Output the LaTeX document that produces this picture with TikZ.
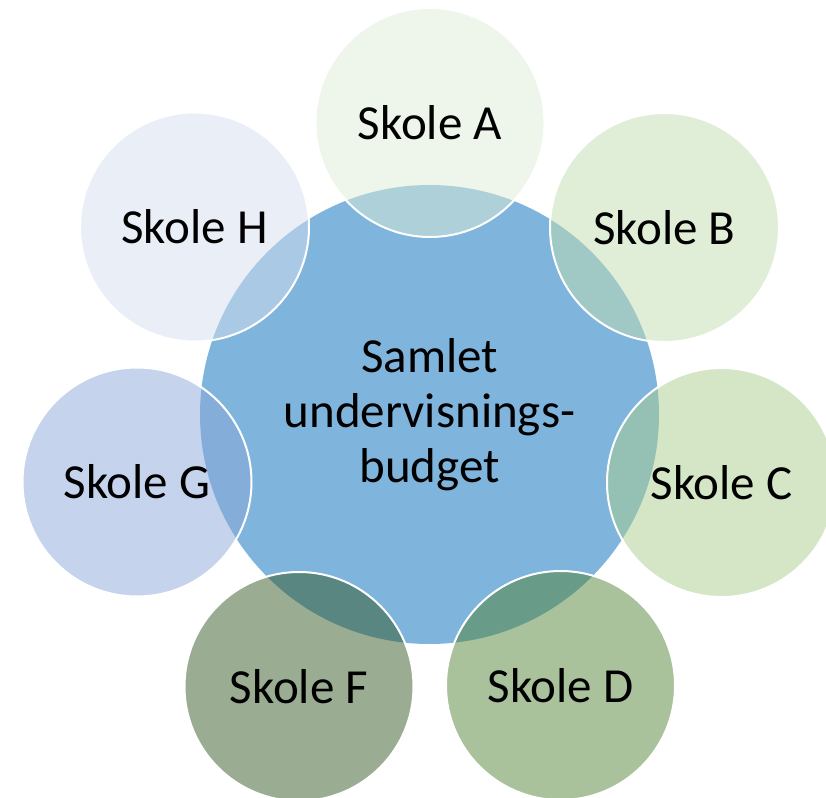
\documentclass[tikz,border=0pt]{standalone}
\usepackage{fontspec}
\setmainfont{Carlito}
\usetikzlibrary{positioning}
\definecolor{hubblue}{RGB}{127,181,220}
\definecolor{schoolA}{RGB}{221,235,213}
\definecolor{schoolB}{RGB}{193,221,177}
\definecolor{schoolC}{RGB}{169,205,141}
\definecolor{schoolD}{RGB}{83,133,55}
\definecolor{schoolF}{RGB}{53,89,37}
\definecolor{schoolG}{RGB}{139,167,217}
\definecolor{schoolH}{RGB}{213,221,239}

\begin{document}
\begin{tikzpicture}[x=1pt,y=-1pt,
  hub/.style={circle,fill=hubblue,minimum size=459pt,inner sep=0pt,align=center,
    font=\fontsize{49}{55}\selectfont},
  school/.style={circle,draw=white,line width=2pt,fill opacity=0.5,text opacity=1,
    minimum size=229pt,inner sep=0pt,font=\fontsize{49}{55}\selectfont}]
  \useasboundingbox (0,0) rectangle (826,797) ; % page size
  \clip (0,0) rectangle (826,797) ;

  \node[hub] (budget) at (429.5,414.5) {Samlet\\undervisnings-\\budget} ; % centre circle

  \node[school,fill=schoolA] (skoleA) at (430,122.5) {Skole A} ; % schools round the centre
  \node[school,fill=schoolB] (skoleB) at (664.5,227.5) {Skole B} ;
  \node[school,fill=schoolC] (skoleC) at (721.5,482.5) {Skole C} ;
  \node[school,fill=schoolD] (skoleD) at (560.5,685.5) {Skole D} ;
  \node[school,fill=schoolF] (skoleF) at (299,686.5) {Skole F} ;
  \node[school,fill=schoolG] (skoleG) at (137,482) {Skole G} ;
  \node[school,fill=schoolH] (skoleH) at (194.5,227) {Skole H} ;
\end{tikzpicture}
\end{document}
